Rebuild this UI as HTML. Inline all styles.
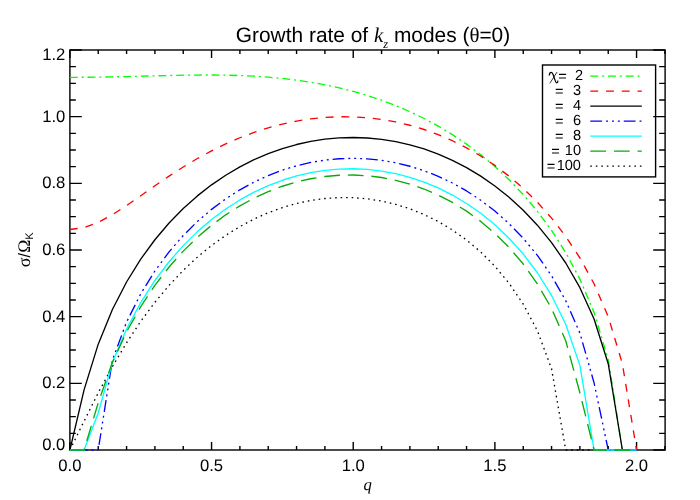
<!DOCTYPE html>
<html><head><meta charset="utf-8"><title>Growth rate of kz modes</title>
<style>html,body{margin:0;padding:0;background:#fff}svg{display:block;will-change:transform;transform:translateZ(0)}text{text-rendering:geometricPrecision}.sa{font-family:"Liberation Sans",sans-serif}.se{font-family:"Liberation Serif",serif}</style>
</head><body>
<svg width="700" height="500" viewBox="0 0 700 500">
<rect x="0" y="0" width="700" height="500" fill="#ffffff"/>
<g stroke="#000" fill="none" stroke-linecap="butt">
<rect x="69.90" y="50.00" width="595.20" height="400.00" stroke-width="1.40"/>
<path d="M69.90 450.00v-8.00M69.90 50.00v8.00M98.23 450.00v-4.00M98.23 50.00v4.00M126.57 450.00v-4.00M126.57 50.00v4.00M154.90 450.00v-4.00M154.90 50.00v4.00M183.23 450.00v-4.00M183.23 50.00v4.00M211.56 450.00v-8.00M211.56 50.00v8.00M239.90 450.00v-4.00M239.90 50.00v4.00M268.23 450.00v-4.00M268.23 50.00v4.00M296.56 450.00v-4.00M296.56 50.00v4.00M324.90 450.00v-4.00M324.90 50.00v4.00M353.23 450.00v-8.00M353.23 50.00v8.00M381.56 450.00v-4.00M381.56 50.00v4.00M409.90 450.00v-4.00M409.90 50.00v4.00M438.23 450.00v-4.00M438.23 50.00v4.00M466.56 450.00v-4.00M466.56 50.00v4.00M494.89 450.00v-8.00M494.89 50.00v8.00M523.23 450.00v-4.00M523.23 50.00v4.00M551.56 450.00v-4.00M551.56 50.00v4.00M579.89 450.00v-4.00M579.89 50.00v4.00M608.23 450.00v-4.00M608.23 50.00v4.00M636.56 450.00v-8.00M636.56 50.00v8.00M664.89 450.00v-4.00M664.89 50.00v4.00M69.90 450.00h11.90M665.10 450.00h-11.90M69.90 433.33h5.95M665.10 433.33h-5.95M69.90 416.67h5.95M665.10 416.67h-5.95M69.90 400.00h5.95M665.10 400.00h-5.95M69.90 383.33h11.90M665.10 383.33h-11.90M69.90 366.67h5.95M665.10 366.67h-5.95M69.90 350.00h5.95M665.10 350.00h-5.95M69.90 333.33h5.95M665.10 333.33h-5.95M69.90 316.67h11.90M665.10 316.67h-11.90M69.90 300.00h5.95M665.10 300.00h-5.95M69.90 283.33h5.95M665.10 283.33h-5.95M69.90 266.67h5.95M665.10 266.67h-5.95M69.90 250.00h11.90M665.10 250.00h-11.90M69.90 233.33h5.95M665.10 233.33h-5.95M69.90 216.67h5.95M665.10 216.67h-5.95M69.90 200.00h5.95M665.10 200.00h-5.95M69.90 183.33h11.90M665.10 183.33h-11.90M69.90 166.67h5.95M665.10 166.67h-5.95M69.90 150.00h5.95M665.10 150.00h-5.95M69.90 133.33h5.95M665.10 133.33h-5.95M69.90 116.67h11.90M665.10 116.67h-11.90M69.90 100.00h5.95M665.10 100.00h-5.95M69.90 83.33h5.95M665.10 83.33h-5.95M69.90 66.67h5.95M665.10 66.67h-5.95M69.90 50.00h11.90M665.10 50.00h-11.90" stroke-width="1.40"/>
</g>
<g fill="none" stroke-width="1.33" stroke-linejoin="round" stroke-linecap="butt">
<polyline points="69.90,450.00 84.07,421.17 98.23,392.83 112.40,366.60 126.57,342.76 140.73,321.36 154.90,302.28 169.07,285.34 183.23,270.35 197.40,257.13 211.56,245.51 225.73,235.36 239.90,226.58 254.06,219.06 268.23,212.75 282.40,207.57 296.56,203.50 310.73,200.48 324.90,198.52 339.06,197.58 353.23,197.68 367.40,198.83 381.56,201.04 395.73,204.35 409.90,208.82 424.06,214.50 438.23,221.51 452.40,229.97 466.56,240.05 480.73,252.01 494.89,266.22 509.06,283.25 523.23,304.10 537.39,330.75 551.56,368.73 565.73,450.00 579.89,450.00 594.06,450.00 608.23,450.00 622.39,450.00 636.56,450.00" stroke="#000000" stroke-dasharray="1.57,3.94"/>
<polyline points="69.90,77.32 84.07,77.27 98.23,77.11 112.40,76.87 126.57,76.56 140.73,76.20 154.90,75.83 169.07,75.49 183.23,75.21 197.40,75.04 211.56,75.01 225.73,75.17 239.90,75.55 254.06,76.20 268.23,77.16 282.40,78.46 296.56,80.14 310.73,82.23 324.90,84.78 339.06,87.81 353.23,91.37 367.40,95.49 381.56,100.22 395.73,105.59 409.90,111.66 424.06,118.48 438.23,126.12 452.40,134.65 466.56,144.15 480.73,154.74 494.89,166.55 509.06,179.74 523.23,194.56 537.39,211.30 551.56,230.42 565.73,252.62 579.89,279.12 594.06,312.37 608.23,359.57 622.39,450.00 636.56,450.00" stroke="#00ff00" stroke-dasharray="7.87,3.94,1.97,3.94"/>
<polyline points="69.90,229.52 84.07,227.66 98.23,222.45 112.40,214.75 126.57,205.55 140.73,195.68 154.90,185.73 169.07,176.09 183.23,166.98 197.40,158.54 211.56,150.83 225.73,143.89 239.90,137.75 254.06,132.40 268.23,127.84 282.40,124.06 296.56,121.06 310.73,118.84 324.90,117.39 339.06,116.72 353.23,116.82 367.40,117.72 381.56,119.41 395.73,121.92 409.90,125.27 424.06,129.50 438.23,134.63 452.40,140.72 466.56,147.82 480.73,156.03 494.89,165.42 509.06,176.13 523.23,188.31 537.39,202.20 551.56,218.08 565.73,236.42 579.89,257.92 594.06,283.79 608.23,316.56 622.39,363.77 636.56,450.00" stroke="#ff0000" stroke-dasharray="7.87,7.87"/>
<polyline points="69.90,450.00 84.07,389.84 98.23,344.14 112.40,309.56 126.57,281.98 140.73,259.13 154.90,239.74 169.07,223.05 183.23,208.54 197.40,195.89 211.56,184.84 225.73,175.21 239.90,166.86 254.06,159.69 268.23,153.62 282.40,148.58 296.56,144.52 310.73,141.40 324.90,139.21 339.06,137.91 353.23,137.50 367.40,137.98 381.56,139.35 395.73,141.62 409.90,144.81 424.06,148.96 438.23,154.10 452.40,160.29 466.56,167.59 480.73,176.10 494.89,185.93 509.06,197.23 523.23,210.22 537.39,225.19 551.56,242.56 565.73,263.00 579.89,287.67 594.06,318.93 608.23,363.68 622.39,450.00 636.56,450.00" stroke="#000000"/>
<polyline points="69.90,450.00 84.07,450.00 98.23,450.00 112.40,359.99 126.57,322.11 140.73,293.83 154.90,270.97 169.07,251.84 183.23,235.54 197.40,221.50 211.56,209.36 225.73,198.85 239.90,189.80 254.06,182.06 268.23,175.53 282.40,170.12 296.56,165.78 310.73,162.46 324.90,160.13 339.06,158.76 353.23,158.33 367.40,158.86 381.56,160.34 395.73,162.79 409.90,166.24 424.06,170.72 438.23,176.28 452.40,182.99 466.56,190.94 480.73,200.25 494.89,211.08 509.06,223.65 523.23,238.26 537.39,255.38 551.56,275.74 565.73,300.66 579.89,333.04 594.06,382.89 608.23,450.00 622.39,450.00 636.56,450.00" stroke="#0000ff" stroke-dasharray="11.81,3.94,1.97,3.94,1.97,3.94,1.97,3.94"/>
<polyline points="69.90,450.00 84.07,450.00 98.23,412.99 112.40,362.48 126.57,329.06 140.73,302.53 154.90,280.48 169.07,261.73 183.23,245.60 197.40,231.63 211.56,219.51 225.73,209.00 239.90,199.94 254.06,192.19 268.23,185.66 282.40,180.26 296.56,175.94 310.73,172.66 324.90,170.38 339.06,169.09 353.23,168.76 367.40,169.41 381.56,171.05 395.73,173.68 409.90,177.34 424.06,182.08 438.23,187.95 452.40,195.04 466.56,203.45 480.73,213.31 494.89,224.83 509.06,238.27 523.23,254.04 537.39,272.74 551.56,295.44 565.73,324.29 579.89,365.37 594.06,450.00 608.23,450.00 622.39,450.00 636.56,450.00" stroke="#00ffff"/>
<polyline points="69.90,450.00 84.07,450.00 98.23,402.75 112.40,362.27 126.57,331.81 140.73,306.67 154.90,285.35 169.07,267.02 183.23,251.13 197.40,237.31 211.56,225.28 225.73,214.83 239.90,205.82 254.06,198.10 268.23,191.60 282.40,186.24 296.56,181.96 310.73,178.73 324.90,176.50 339.06,175.28 353.23,175.03 367.40,175.77 381.56,177.52 395.73,180.28 409.90,184.09 424.06,189.01 438.23,195.10 452.40,202.44 466.56,211.16 480.73,221.41 494.89,233.40 509.06,247.46 523.23,264.05 537.39,283.93 551.56,308.47 565.73,340.78 579.89,392.79 594.06,450.00 608.23,450.00 622.39,450.00 636.56,450.00" stroke="#0aaa0a" stroke-dasharray="15.75,7.87"/>
</g>
<g class="sa" font-size="16.67" fill="#000">
<text x="69.90" y="470.7" text-anchor="middle">0.0</text>
<text x="211.56" y="470.7" text-anchor="middle">0.5</text>
<text x="353.23" y="470.7" text-anchor="middle">1.0</text>
<text x="494.89" y="470.7" text-anchor="middle">1.5</text>
<text x="636.56" y="470.7" text-anchor="middle">2.0</text>
<text x="65.3" y="450.10" text-anchor="end">0.0</text>
<text x="65.3" y="388.23" text-anchor="end">0.2</text>
<text x="65.3" y="321.57" text-anchor="end">0.4</text>
<text x="65.3" y="254.90" text-anchor="end">0.6</text>
<text x="65.3" y="188.23" text-anchor="end">0.8</text>
<text x="65.3" y="121.57" text-anchor="end">1.0</text>
<text x="65.3" y="59.80" text-anchor="end">1.2</text>
</g>
<text x="235.8" y="41.5" class="sa" font-size="20.9" fill="#000" xml:space="preserve">Growth rate of <tspan class="se" font-style="italic">k</tspan><tspan class="se" font-style="italic" font-size="12.5" dy="6.2">z</tspan><tspan dy="-6.2"> modes (</tspan><tspan class="se">θ</tspan>=0)</text>
<text x="367.7" y="489.5" text-anchor="middle" class="se" font-style="italic" font-size="16.67" fill="#000">q</text>
<text transform="translate(29.9,267.2) rotate(-90)" class="sa" font-size="16.67" fill="#000"><tspan class="se" font-size="18.2">σ</tspan>/<tspan class="se" font-size="17.6">Ω</tspan><tspan font-size="11" dy="3.1">K</tspan></text>
<rect x="542.50" y="65.00" width="113.10" height="111.90" fill="none" stroke="#000" stroke-width="1.4"/>
<g class="sa" font-size="14.6" fill="#000">
<line x1="590.3" x2="641.8" y1="76.05" y2="76.05" stroke="#00ff00" stroke-width="1.33" stroke-dasharray="7.87,3.94,1.97,3.94"/>
<text x="558.20" y="81.05">=</text>
<text x="583.20" y="79.95" text-anchor="end">2</text>
<line x1="590.3" x2="641.8" y1="91.05" y2="91.05" stroke="#ff0000" stroke-width="1.33" stroke-dasharray="7.87,7.87"/>
<text x="555.10" y="96.05">=</text>
<text x="581.00" y="94.95" text-anchor="end">3</text>
<line x1="590.3" x2="641.8" y1="106.05" y2="106.05" stroke="#000000" stroke-width="1.33"/>
<text x="555.10" y="111.05">=</text>
<text x="581.00" y="109.95" text-anchor="end">4</text>
<line x1="590.3" x2="641.8" y1="121.05" y2="121.05" stroke="#0000ff" stroke-width="1.33" stroke-dasharray="11.81,3.94,1.97,3.94,1.97,3.94,1.97,3.94"/>
<text x="555.10" y="126.05">=</text>
<text x="581.00" y="124.95" text-anchor="end">6</text>
<line x1="590.3" x2="641.8" y1="136.05" y2="136.05" stroke="#00ffff" stroke-width="1.33"/>
<text x="555.10" y="141.05">=</text>
<text x="581.00" y="139.95" text-anchor="end">8</text>
<line x1="590.3" x2="641.8" y1="151.05" y2="151.05" stroke="#0aaa0a" stroke-width="1.33" stroke-dasharray="15.75,7.87"/>
<text x="551.20" y="156.05">=</text>
<text x="581.00" y="154.95" text-anchor="end">10</text>
<line x1="590.3" x2="641.8" y1="166.05" y2="166.05" stroke="#000000" stroke-width="1.33" stroke-dasharray="1.57,3.94"/>
<text x="546.70" y="171.05">=</text>
<text x="581.00" y="169.95" text-anchor="end">100</text>
<path d="M549.3 75.0C549.5 73.2 550.2 72.4 551.2 72.4C552.2 72.4 552.7 73.4 553.2 74.8L555.2 80.6C555.7 82.1 556.1 82.9 556.9 82.9C557.5 82.9 557.8 82.2 557.9 81.0" fill="none" stroke="#000" stroke-width="1.25" stroke-linecap="round"/>
<path d="M556.9 72.3L550.0 83.0" fill="none" stroke="#000" stroke-width="0.8" stroke-linecap="round"/>
</g>
</svg>
</body></html>
